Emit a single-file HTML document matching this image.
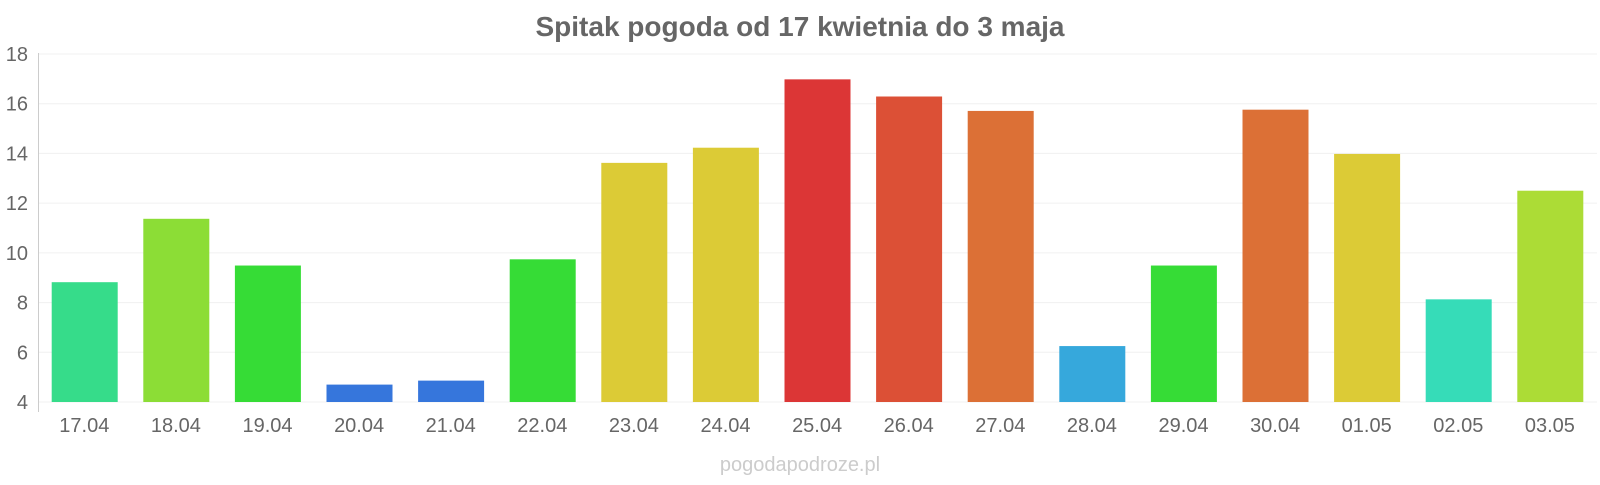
<!DOCTYPE html>
<html><head><meta charset="utf-8"><style>
body{margin:0;background:#fff;width:1600px;height:480px;overflow:hidden;font-family:"Liberation Sans",sans-serif}
</style></head><body>
<svg id="chart" width="1600" height="480" xmlns="http://www.w3.org/2000/svg">
<text x="800" y="36" text-anchor="middle" font-size="28" font-weight="bold" fill="#666">Spitak pogoda od 17 kwietnia do 3 maja</text>
<g id="grid"></g>
<g id="bars"></g>
<g id="xlabels"></g>
<g id="ylabels"></g>
<line x1="38.5" y1="53" x2="38.5" y2="412" stroke="#ccc" stroke-width="1"/>
<text x="800" y="471" text-anchor="middle" font-size="20" fill="#ccc">pogodapodroze.pl</text>
</svg>
<script>
const categories=["17.04","18.04","19.04","20.04","21.04","22.04","23.04","24.04","25.04","26.04","27.04","28.04","29.04","30.04","01.05","02.05","03.05"];
const values=[8.82,11.37,9.49,4.7,4.86,9.74,13.62,14.23,16.98,16.29,15.71,6.25,9.49,15.76,13.98,8.13,12.5];
const colors=["#36dc8a","#8cdd36","#36dc36","#3676dc","#3676dc","#36dc36","#dccb36","#dccb36","#dc3636","#dc5036","#dc7036","#36a8dc","#36dc36","#dc7036","#dccb36","#36dcb8","#acdc36"];
const yTicks=[4,6,8,10,12,14,16,18];
const NS="http://www.w3.org/2000/svg";
const x0=38.5,slot=91.6,yTop=54,yBottom=402,ymin=4,ymax=18;
function yS(v){return yBottom-(v-ymin)/(ymax-ymin)*(yBottom-yTop);}
function xS(i){return x0+i*slot;}
const grid=document.getElementById('grid'),bars=document.getElementById('bars'),xl=document.getElementById('xlabels'),yl=document.getElementById('ylabels');
yTicks.forEach(t=>{
const l=document.createElementNS(NS,'line');


l.setAttribute('x1',x0);l.setAttribute('x2',1597);l.setAttribute('y1',yS(t));l.setAttribute('y2',yS(t));
l.setAttribute('stroke','#f0f0f0');l.setAttribute('stroke-width','1');
grid.appendChild(l);
const tx=document.createElementNS(NS,'text');


tx.setAttribute('x',28);tx.setAttribute('y',yS(t)+7);tx.setAttribute('text-anchor','end');
tx.setAttribute('font-size','20');tx.setAttribute('fill','#666');tx.textContent=t;
yl.appendChild(tx);
});
categories.forEach((c,i)=>{
const r=document.createElementNS(NS,'rect');


const y=yS(values[i]);
r.setAttribute('x',xS(i)+13.2);r.setAttribute('width',66);r.setAttribute('y',y);r.setAttribute('height',yBottom-y);
r.setAttribute('fill',colors[i]);
bars.appendChild(r);
const tx=document.createElementNS(NS,'text');


tx.setAttribute('x',xS(i)+slot/2);tx.setAttribute('y',432);tx.setAttribute('text-anchor','middle');
tx.setAttribute('font-size','20');tx.setAttribute('fill','#666');tx.textContent=c;
xl.appendChild(tx);
});
</script>
</body></html>
